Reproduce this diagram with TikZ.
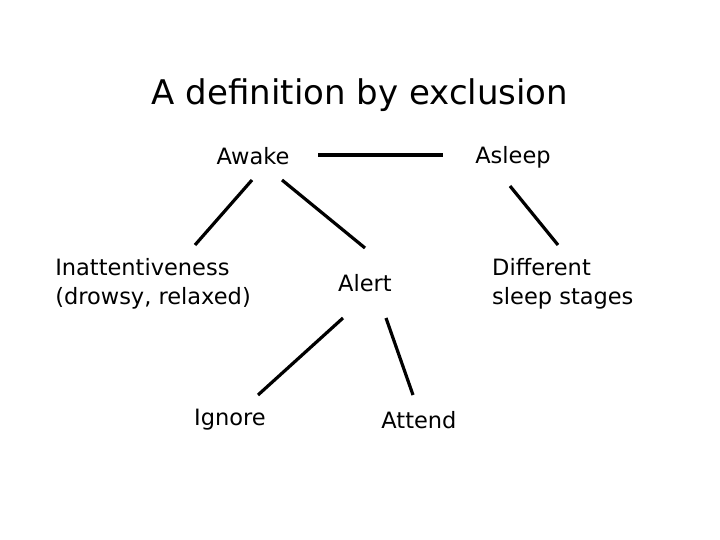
\documentclass[tikz,border=0pt]{standalone}
\usepackage{fontspec}
\setmainfont{DejaVu Sans}
\begin{document}
\begin{tikzpicture}[x=1pt,y=-1pt,
  lbl/.style={inner sep=0pt, font=\fontsize{22.5}{29}\selectfont},
  ttl/.style={inner sep=0pt, font=\fontsize{34}{40}\selectfont},
  conn/.style={line width=3.2pt}]
\useasboundingbox (0,0) rectangle (720,540);
\node[ttl] (title) at (360,95) {A definition by exclusion};
\node[lbl] (awake) at (253,156) {Awake};
\node[lbl] (asleep) at (513,157) {Asleep};
\node[lbl, align=left] (inatt) at (153,284) {Inattentiveness\\(drowsy, relaxed)};
\node[lbl] (alert) at (365,283) {Alert};
\node[lbl, align=left, anchor=west] (diff) at (492,284) {Different\\sleep stages};
\node[lbl] (ignore) at (230,420) {Ignore};
\node[lbl] (attend) at (419,420) {Attend};
\coordinate (h1) at (318,155);
\coordinate (h2) at (443,155);
\draw[conn] (h1) -- (h2);
\coordinate (a1) at (252,180); \coordinate (a2) at (195,245);
\draw[conn] (a1) -- (a2);
\coordinate (b1) at (282,180); \coordinate (b2) at (365,248);
\draw[conn] (b1) -- (b2);
\coordinate (c1) at (510,186); \coordinate (c2) at (558,245);
\draw[conn] (c1) -- (c2);
\coordinate (d1) at (343,318); \coordinate (d2) at (258,395);
\draw[conn] (d1) -- (d2);
\coordinate (e1) at (386,318); \coordinate (e2) at (413,395);
\draw[conn] (e1) -- (e2);
\end{tikzpicture}
\end{document}
